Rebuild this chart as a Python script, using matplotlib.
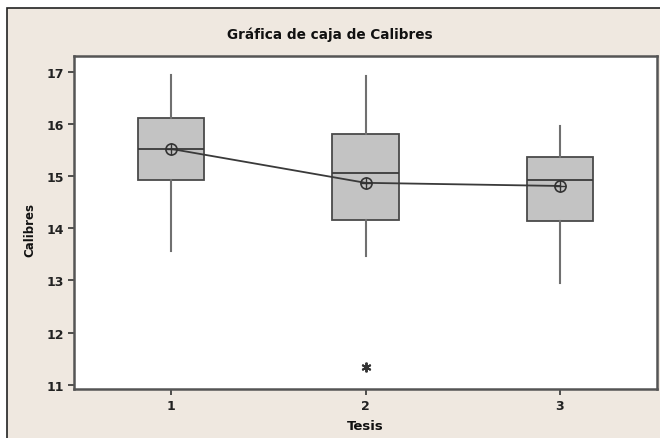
import matplotlib
matplotlib.use("Agg")
import matplotlib.pyplot as plt
from matplotlib.patches import Rectangle

# Datos (Minitab)
tesis = [1, 2, 3]
bigote_inf = [13.57, 13.47, 12.95]
q1 = [14.93, 14.16, 14.14]
mediana = [15.52, 15.06, 14.93]
q3 = [16.11, 15.81, 15.37]
bigote_sup = [16.94, 16.92, 15.96]
medias = [15.52, 14.87, 14.81]
atipicos = [[], [11.34], []]

fig = plt.figure(figsize=(6.6, 4.39), dpi=100, facecolor="white")

# Marco de fondo
fondo = Rectangle((7 / 660, -0.1), 1.2, 1 - 9 / 439 + 0.1, transform=fig.transFigure,
                  facecolor="#efe8e0", edgecolor="#222222", linewidth=1.2, zorder=-10)
fig.patches.append(fondo)

ax = fig.add_axes([74 / 660, 1 - 390 / 439, (657 - 74) / 660, (390 - 57) / 439])
ax.set_zorder(1)
ax.set_facecolor("white")

stats = []
for i in range(len(tesis)):
    stats.append({
        "whislo": bigote_inf[i], "q1": q1[i], "med": mediana[i],
        "q3": q3[i], "whishi": bigote_sup[i], "fliers": atipicos[i],
    })

ax.bxp(stats, positions=tesis, widths=0.34, patch_artist=True, showcaps=False,
       boxprops=dict(facecolor="#c3c3c3", edgecolor="#4a4a4a", linewidth=1.3),
       medianprops=dict(color="#3a3a3a", linewidth=1.3),
       whiskerprops=dict(color="#707070", linewidth=1.5),
       flierprops=dict(marker=(6, 2, 0), markersize=7, markeredgewidth=1.4,
                       markeredgecolor="#333333"))

# Linea de medias con simbolo circulo + cruz
ax.plot(tesis, medias, color="#3a3a3a", linewidth=1.3, zorder=4)
ax.plot(tesis, medias, "o", markersize=8, markerfacecolor="none",
        markeredgecolor="#333333", markeredgewidth=1.2, zorder=5)
ax.plot(tesis, medias, "+", markersize=8, color="#333333", markeredgewidth=1.0, zorder=5)

ax.set_xlim(0.5, 3.5)
ax.set_ylim(10.92, 17.3)
ax.set_yticks([11, 12, 13, 14, 15, 16, 17])
ax.set_xticks(tesis)
ax.set_xticklabels(["1", "2", "3"])

for s in ax.spines.values():
    s.set_color("#555555")
    s.set_linewidth(1.8)

ax.tick_params(direction="out", length=4, width=1.2, colors="#333333",
               labelsize=9, labelcolor="#222222")
for lab in ax.get_xticklabels() + ax.get_yticklabels():
    lab.set_fontweight("bold")

fig.text(0.5, 1 - 35 / 439, "Gráfica de caja de Calibres", ha="center", va="center",
         fontsize=9.8, fontweight="bold", color="#111111")
fig.text(365 / 660, 1 - 427 / 439, "Tesis", ha="center", va="center",
         fontsize=9.5, fontweight="bold", color="#111111")
fig.text(30 / 660, 1 - 230 / 439, "Calibres", ha="center", va="center", rotation=90,
         fontsize=8.5, fontweight="bold", color="#111111")

fig.savefig("out.png", dpi=100, facecolor=fig.get_facecolor())
